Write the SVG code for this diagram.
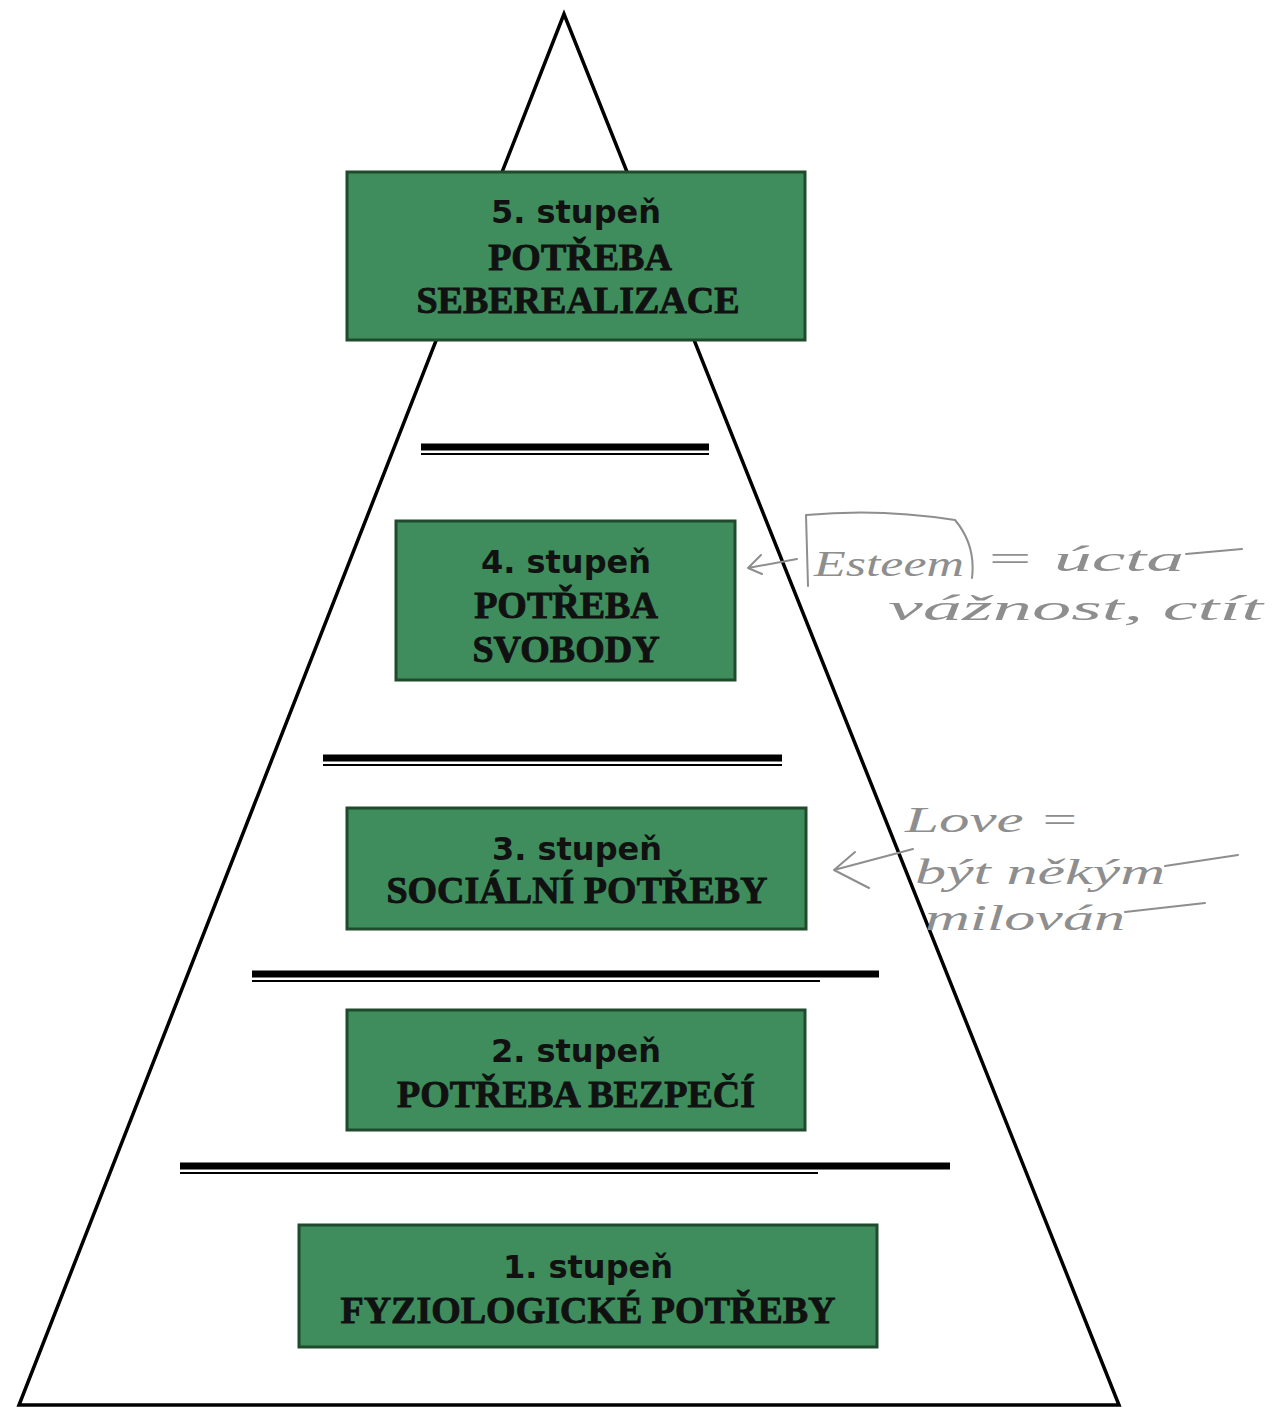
<svg xmlns="http://www.w3.org/2000/svg" width="1272" height="1407" viewBox="0 0 1272 1407">
<style>
.box{fill:#3f8d5d;stroke:#1f4a2c;stroke-width:3}
.t1{font-family:"DejaVu Sans",sans-serif;font-weight:bold;font-size:32px;fill:#111;text-anchor:middle}
.t2{font-family:"Liberation Serif","Times New Roman",serif;font-weight:bold;font-size:38px;fill:#111;stroke:#111;stroke-width:0.9;text-anchor:middle}
.hw{font-family:"Liberation Serif",serif;font-style:italic;fill:#8e8e8e;font-size:36px}
.pen{fill:none;stroke:#8e8e8e;stroke-width:2;stroke-linecap:round;stroke-linejoin:round}
.thick{stroke:#000;stroke-width:7}
.thin{stroke:#000;stroke-width:2}
</style>
<rect width="1272" height="1407" fill="#fff"/>
<g id="pyramid">
<polygon points="564,14 19,1405 1119,1405" fill="none" stroke="#000" stroke-width="3.5" stroke-linejoin="miter"/>
</g>
<g id="dividers">
<line class="thick" x1="421" y1="447" x2="709" y2="447"/><line class="thin" x1="421" y1="454" x2="709" y2="454"/>
<line class="thick" x1="323" y1="758" x2="782" y2="758"/><line class="thin" x1="323" y1="765" x2="782" y2="765"/>
<line class="thick" x1="252" y1="974" x2="879" y2="974"/><line class="thin" x1="252" y1="981" x2="820" y2="981"/>
<line class="thick" x1="180" y1="1166" x2="950" y2="1166"/><line class="thin" x1="180" y1="1173" x2="818" y2="1173"/>
</g>
<g id="level5">
<rect class="box" x="347" y="172" width="458" height="168"/>
<text class="t1" x="576" y="223">5. stupeň</text>
<text class="t2" x="580" y="270">POTŘEBA</text>
<text class="t2" x="578" y="313">SEBEREALIZACE</text>
</g>
<g id="level4">
<rect class="box" x="396" y="521" width="339" height="159"/>
<text class="t1" x="566" y="573">4. stupeň</text>
<text class="t2" x="566" y="618">POTŘEBA</text>
<text class="t2" x="566" y="662">SVOBODY</text>
</g>
<g id="level3">
<rect class="box" x="347" y="808" width="459" height="121"/>
<text class="t1" x="577" y="860">3. stupeň</text>
<text class="t2" x="577" y="903">SOCIÁLNÍ POTŘEBY</text>
</g>
<g id="level2">
<rect class="box" x="347" y="1010" width="458" height="120"/>
<text class="t1" x="576" y="1062">2. stupeň</text>
<text class="t2" x="576" y="1107">POTŘEBA BEZPEČÍ</text>
</g>
<g id="level1">
<rect class="box" x="299" y="1225" width="578" height="122"/>
<text class="t1" x="588" y="1278">1. stupeň</text>
<text class="t2" x="588" y="1323">FYZIOLOGICKÉ POTŘEBY</text>
</g>
<g id="annot-esteem">
<path class="pen" d="M808,586 L806,515 Q880,508 955,520 Q976,545 972,578"/>
<path class="pen" d="M797,559 L748,568 M761,555 L748,568 L762,574"/>
<text class="hw" x="814" y="576" textLength="150" lengthAdjust="spacingAndGlyphs">Esteem</text>
<text class="hw" x="984" y="571" textLength="200" lengthAdjust="spacingAndGlyphs">= úcta</text>
<path class="pen" d="M1186,554 L1242,549"/>
<text class="hw" x="888" y="620" textLength="375" lengthAdjust="spacingAndGlyphs">vážnost, ctít</text>
</g>
<g id="annot-love">
<path class="pen" d="M913,849 L834,870 M855,852 L834,870 L869,888"/>
<text class="hw" x="905" y="832" font-size="44" textLength="175" lengthAdjust="spacingAndGlyphs">Love =</text>
<text class="hw" x="915" y="884" font-size="40" textLength="250" lengthAdjust="spacingAndGlyphs">být někým</text>
<path class="pen" d="M1165,866 L1238,855"/>
<text class="hw" x="925" y="930" font-size="40" textLength="200" lengthAdjust="spacingAndGlyphs">milován</text>
<path class="pen" d="M1125,912 L1205,903"/>
</g>
</svg>
